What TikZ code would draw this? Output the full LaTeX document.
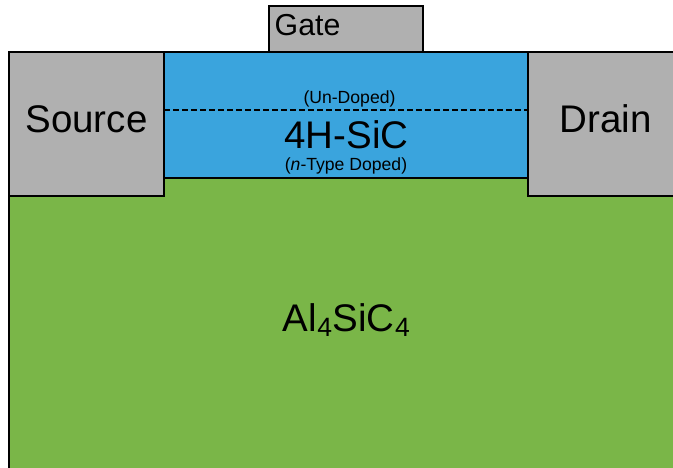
\documentclass[tikz,border=0pt]{standalone}
\usepackage{fontspec}
\setmainfont{Liberation Sans}
\usetikzlibrary{positioning, calc}
\definecolor{contactgray}{HTML}{B0B0B0}
\definecolor{channelblue}{HTML}{3AA4DD}
\definecolor{substrategreen}{HTML}{7AB648}
\newcommand{\lowfour}{\kern0.5pt\raisebox{-5.5pt}{\fontsize{26.5}{28}\selectfont 4}\kern0.5pt}
\tikzset{
  layer/.style   = {rectangle, draw=black, line width=1.7pt, inner sep=0pt},
  contact/.style = {layer, fill=contactgray},
  biglabel/.style   = {inner sep=0pt, font=\fontsize{38.5}{40}\selectfont},
  gatelabel/.style  = {inner sep=0pt, font=\fontsize{30.3}{32}\selectfont},
  smalllabel/.style = {inner sep=0pt, font=\fontsize{17.6}{19}\selectfont},
}

\begin{document}
\begin{tikzpicture}[x=1pt, y=-1pt]
  \useasboundingbox (0,0) rectangle (673,468);
  % layers
  \node[layer, fill=substrategreen, minimum width=691pt, minimum height=310pt] (substrate) at (354.5,333) {};
  \node[layer, fill=channelblue, minimum width=364pt, minimum height=126pt] (channel) at (346,115) {};
  \node[contact, minimum width=154pt, minimum height=46pt] (gate) at (346,29) {};
  \node[contact, minimum width=155pt, minimum height=144pt] (source) at (86.5,124) {};
  \node[contact, minimum width=165pt, minimum height=144pt] (drain) at (610.5,124) {};

  % dashed interface
  \coordinate (dashleft) at (164,110);
  \coordinate (dashright) at (528,110);
  \draw[dashed, line width=1.4pt, dash pattern=on 6pt off 3pt] (dashleft) -- (dashright);

  % labels
  \node[gatelabel, anchor=base west] (gatetext) at (274.5,36) {Gate};
  \node[biglabel, anchor=base] (sourcetext) at (86.5,133) {Source};
  \node[biglabel, anchor=base] (draintext) at (605.5,133) {Drain};
  \node[smalllabel, anchor=base] (undoped) at (349.5,103.5) {(Un-Doped)};
  \node[biglabel, anchor=base] (sic) at (346.5,149) {4H-SiC};
  \node[smalllabel, anchor=base] (ndoped) at (346,171) {(\textit{n}-Type Doped)};
  \node[biglabel, anchor=base] (alsic) at (346.5,331.5) {Al\lowfour SiC\lowfour};
\end{tikzpicture}
\end{document}
